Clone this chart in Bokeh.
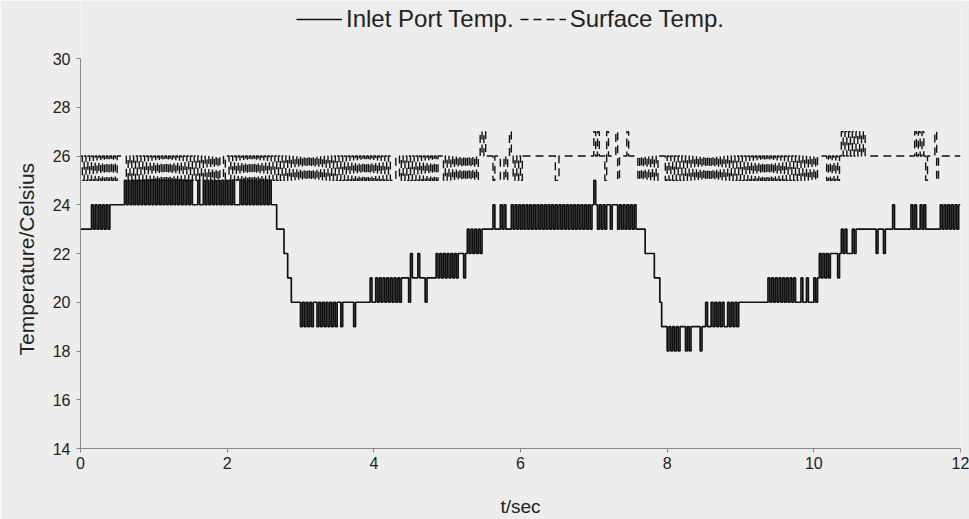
import numpy as np
from bokeh.plotting import figure
from bokeh.models import Legend, LegendItem, Range1d, FixedTicker, Title
from bokeh.embed import file_html
from bokeh.resources import INLINE

# ---- data -----------------------------------------------------------------
# Temperatures sampled every 0.025 s; each digit d is a reading of (18 + d) degC.
SAMPLE_DT = 0.025
BASE_TEMP = 18

inlet_segments = [
    "555555", "6565656565", "66666666",
    "7676767676767676767676767676767676767", "666766",
    "767676767676767676", "66", "76767676767676767",
    "666", "5555", "44", "33", "22222",
    "1212121", "22", "121212121", "212212", "222221",
    "22222222", "322323232323232323", "333243334333233333",
    "434343434343", "44434", "54545454", "55555",
    "56555656555656565", "656565656565656565656565656565656565656",
    "7", "656565", "665666", "56565656565",
    "5555", "44444", "333", "2", "111",
    "01010101", "110101", "1111011", "2112121212112121212",
    "222222222222222",
    "32323", "2", "3232323232", "22", "32", "2", "32", "22", "323",
    "434343", "444434", "545444545",
    "5555555555", "4", "555", "4", "5555", "6", "555555555",
    "656556565", "5555555", "65656565656",
]

surface_segments = [
    "87878787878787878787", "8888",
    "87878787878787878787878787878787878787878787878787878", "8788",
    "78" * 44, "777", "88",
    "787878787878787878787", "888", "7878787878787878787",
    "8989888878887787898787",
    "87", "8" * 18, "77", "8" * 19, "9", "8", "9", "888", "7", "9", "8888",
    "9", "7", "8888", "9", "88888", "7", "8",
    "787878787", "8888", "78" * 42, "8888", "78787878",
    "98989898989898", "88", "8" * 24, "98989878", "888", "978", "8" * 11,
]

x_ticks = [0, 2, 4, 6, 8, 10, 12]
y_ticks = [14, 16, 18, 20, 22, 24, 26, 28, 30]
y_axis_span = (14, 30)
series_labels = ["Inlet Port Temp.", "Surface Temp."]
x_title = "t/sec"
y_title = "Temperature/Celsius"


def decode(segments):
    digits = "".join(segments)
    vals = [BASE_TEMP + int(c) for c in digits]
    vals.append(vals[-1])  # hold last reading to the end of the record
    times = np.arange(len(vals)) * SAMPLE_DT
    return times, np.array(vals, dtype=float)


t_in, inlet = decode(inlet_segments)
t_sf, surface = decode(surface_segments)

# ---- figure -------------------------------------------------------------------
BG = "#ededed"
FONT = "Liberation Sans"
FRAME_H = 448                       # frame spans the canvas top down to the x axis
PX_PER_DEG = 390 / 16.0             # 14..30 occupies 390 px in the reference
y_top = 30 + 58 / PX_PER_DEG        # room above 30 keeps the legend inside the frame

p = figure(
    width=969, height=519,
    x_range=Range1d(0, 12), y_range=Range1d(14, y_top),
    output_backend="svg", toolbar_location=None,
    min_border_left=80, min_border_right=9,
    min_border_top=0, min_border_bottom=71,
    background_fill_color=BG, border_fill_color=BG,
)
p.outline_line_color = None
p.xgrid.visible = False
p.ygrid.visible = False

r_in = p.step(t_in, inlet, mode="after", line_color="#111111", line_width=1.7)
r_sf = p.step(t_sf, surface, mode="after", line_color="#111111",
              line_width=1.4, line_dash="8 5")

for ax in (p.xaxis[0], p.yaxis[0]):
    ax.axis_line_color = "#8a8a8a"
    ax.major_tick_line_color = "#8a8a8a"
    ax.minor_tick_line_color = None
    ax.major_tick_in = 0
    ax.major_tick_out = 4
    ax.major_label_text_font = FONT
    ax.major_label_text_font_size = "16px"
    ax.major_label_text_color = "#222222"
    ax.axis_label_text_font = FONT
    ax.axis_label_text_font_style = "normal"
    ax.axis_label_text_color = "#222222"

p.yaxis[0].bounds = y_axis_span
p.xaxis[0].ticker = FixedTicker(ticks=x_ticks)
p.yaxis[0].ticker = FixedTicker(ticks=y_ticks)
p.xaxis[0].axis_label = x_title
p.xaxis[0].axis_label_text_font_size = "19px"
p.xaxis[0].major_label_standoff = 4
p.xaxis[0].axis_label_standoff = 24
p.yaxis[0].major_label_standoff = 6

# y title placed along the 14..30 span (the frame itself reaches higher)
p.add_layout(Title(text=y_title, align="left", offset=93, standoff=24,
                   text_font=FONT, text_font_size="21px",
                   text_font_style="normal", text_color="#222222"), "left")

legend = Legend(
    items=[LegendItem(label=series_labels[0], renderers=[r_in]),
           LegendItem(label=series_labels[1], renderers=[r_sf])],
    orientation="horizontal",
    location=(216, FRAME_H - 20 - 13),
    background_fill_alpha=0, border_line_color=None,
    label_text_font=FONT, label_text_font_size="24px",
    label_text_color="#222222",
    glyph_width=46, glyph_height=20, label_standoff=4,
    spacing=6, padding=0, margin=0,
)
p.add_layout(legend)

open("out.html", "w").write(file_html(p, INLINE))
